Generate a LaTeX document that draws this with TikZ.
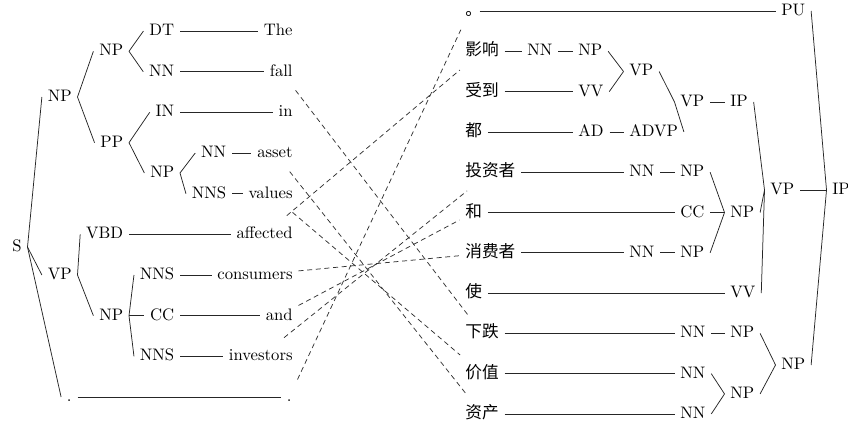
\documentclass[tikz,border=0pt]{standalone}
\usepackage{fontspec}
\newfontfamily\cjk{Noto Sans CJK SC}
\begin{document}
\begin{tikzpicture}[x=0.6pt,y=-0.6pt,
  tn/.style={inner sep=3.33pt, text height=6.5pt, text depth=1.1pt},
  lt/.style={tn,anchor=east},
  rt/.style={tn,anchor=west},
  wd/.style={minimum height=22pt},
  zh/.style={font=\cjk},
  edge/.style={draw=black!85, line width=0.45pt},
  aln/.style={draw=black!80, line width=0.45pt, dash pattern=on 3pt off 2.2pt}]
\useasboundingbox (0,0) rectangle (848,428);
% ---------- left tree ----------
\node[lt] (S) at (27.5,247) {S};
\node[lt] (lNP1) at (77.5,97) {NP};
\node[lt] (lVP1) at (77.5,275) {VP};
\node[lt] (ldot) at (77.5,397) {.};
\node[lt] (lNP2) at (129,51.3) {NP};
\node[lt] (lPP) at (129,142.7) {PP};
\node[lt] (lVBD) at (129,234.3) {VBD};
\node[lt] (lNP3) at (129,315.7) {NP};
\node[lt] (lDT) at (180,31) {DT};
\node[lt] (lNN1) at (180,71.7) {NN};
\node[lt] (lIN) at (180,112.3) {IN};
\node[lt] (lNP4) at (180,173) {NP};
\node[lt] (lNNSc) at (180,275) {NNS};
\node[lt] (lCC) at (180,315.7) {CC};
\node[lt] (lNNSi) at (180,356.3) {NNS};
\node[lt] (lNNa) at (232,153) {NN};
\node[lt] (lNNSv) at (232,193.7) {NNS};
\node[lt,wd] (wThe) at (298.5,31) {The};
\node[lt,wd] (wfall) at (298.5,71.7) {fall};
\node[lt,wd] (win) at (298.5,112.3) {in};
\node[lt,wd] (wasset) at (298.5,153) {asset};
\node[lt,wd] (wvalues) at (298.5,193.7) {values};
\node[lt,wd] (waffected) at (298.5,234.3) {affected};
\node[lt,wd] (wconsumers) at (298.5,275) {consumers};
\node[lt,wd] (wand) at (298.5,315.7) {and};
\node[lt,wd] (winvestors) at (298.5,356.3) {investors};
\node[lt,wd] (wdot) at (297.5,397) {.};
\draw[edge] (S.east) -- (lNP1.west);
\draw[edge] (S.east) -- (lVP1.west);
\draw[edge] (S.east) -- (ldot.west);
\draw[edge] (lNP1.east) -- (lNP2.west);
\draw[edge] (lNP1.east) -- (lPP.west);
\draw[edge] (lNP2.east) -- (lDT.west);
\draw[edge] (lNP2.east) -- (lNN1.west);
\draw[edge] (lPP.east) -- (lIN.west);
\draw[edge] (lPP.east) -- (lNP4.west);
\draw[edge] (lNP4.east) -- (lNNa.west);
\draw[edge] (lNP4.east) -- (lNNSv.west);
\draw[edge] (lVP1.east) -- (lVBD.west);
\draw[edge] (lVP1.east) -- (lNP3.west);
\draw[edge] (lNP3.east) -- (lNNSc.west);
\draw[edge] (lNP3.east) -- (lCC.west);
\draw[edge] (lNP3.east) -- (lNNSi.west);
\draw[edge] (lDT.east) -- (wThe.west);
\draw[edge] (lNN1.east) -- (wfall.west);
\draw[edge] (lIN.east) -- (win.west);
\draw[edge] (lNNa.east) -- (wasset.west);
\draw[edge] (lNNSv.east) -- (wvalues.west);
\draw[edge] (lVBD.east) -- (waffected.west);
\draw[edge] (lNNSc.east) -- (wconsumers.west);
\draw[edge] (lCC.east) -- (wand.west);
\draw[edge] (lNNSi.east) -- (winvestors.west);
\draw[edge] (ldot.east) -- (wdot.west);
% ---------- right tree ----------
\node[rt,wd,zh] (z0) at (459.5,11) {\makebox[0.5em][l]{。}};
\node[rt,wd,zh] (zy) at (459.5,51.3) {影响};
\node[rt,wd,zh] (zsd) at (459.5,91.6) {受到};
\node[rt,wd,zh] (zdou) at (459.5,131.9) {都};
\node[rt,wd,zh] (zt) at (459.5,172.2) {投资者};
\node[rt,wd,zh] (zhe) at (459.5,212.5) {和};
\node[rt,wd,zh] (zc) at (459.5,252.8) {消费者};
\node[rt,wd,zh] (zshi) at (459.5,293.1) {使};
\node[rt,wd,zh] (zx) at (459.5,333.4) {下跌};
\node[rt,wd,zh] (zj) at (459.5,373.7) {价值};
\node[rt,wd,zh] (zz) at (459.5,414) {资产};
\node[rt] (rNNy) at (521.5,51.3) {NN};
\node[rt] (rNPy) at (572.5,51.3) {NP};
\node[rt] (rVV2) at (572.5,91.6) {VV};
\node[rt] (rAD) at (572.5,131.9) {AD};
\node[rt] (rVPu) at (623.5,71.5) {VP};
\node[rt] (rADVP) at (623.5,131.9) {ADVP};
\node[rt] (rNNt) at (623.5,172.2) {NN};
\node[rt] (rNNc) at (623.5,252.8) {NN};
\node[rt] (rVPm) at (674.5,102) {VP};
\node[rt] (rNPt) at (674.5,172.2) {NP};
\node[rt] (rCC) at (674.5,212.5) {CC};
\node[rt] (rNPc) at (674.5,252.8) {NP};
\node[rt] (rNNx) at (674.5,333.4) {NN};
\node[rt] (rNNj) at (674.5,373.7) {NN};
\node[rt] (rNNz) at (674.5,414) {NN};
\node[rt] (rIPm) at (724.5,102) {IP};
\node[rt] (rNPh) at (724.5,212.5) {NP};
\node[rt] (rVVs) at (724.5,293.1) {VV};
\node[rt] (rNPx) at (724.5,333.4) {NP};
\node[rt] (rNPjz) at (724.5,393.9) {NP};
\node[rt] (rPU) at (775.5,11) {PU};
\node[rt] (rVPl) at (764.5,190) {VP};
\node[rt] (rNPb) at (775.5,365) {NP};
\node[rt] (rIP0) at (826.5,190) {IP};
\draw[edge] (z0.east) -- (rPU.west);
\draw[edge] (zy.east) -- (rNNy.west);
\draw[edge] (rNNy.east) -- (rNPy.west);
\draw[edge] (zsd.east) -- (rVV2.west);
\draw[edge] (zdou.east) -- (rAD.west);
\draw[edge] (rAD.east) -- (rADVP.west);
\draw[edge] (zt.east) -- (rNNt.west);
\draw[edge] (rNNt.east) -- (rNPt.west);
\draw[edge] (zhe.east) -- (rCC.west);
\draw[edge] (zc.east) -- (rNNc.west);
\draw[edge] (rNNc.east) -- (rNPc.west);
\draw[edge] (zshi.east) -- (rVVs.west);
\draw[edge] (zx.east) -- (rNNx.west);
\draw[edge] (rNNx.east) -- (rNPx.west);
\draw[edge] (zj.east) -- (rNNj.west);
\draw[edge] (zz.east) -- (rNNz.west);
\draw[edge] (rNPy.east) -- (rVPu.west);
\draw[edge] (rVV2.east) -- (rVPu.west);
\draw[edge] (rVPu.east) -- (rVPm.west);
\draw[edge] (rADVP.east) -- (rVPm.west);
\draw[edge] (rVPm.east) -- (rIPm.west);
\draw[edge] (rNPt.east) -- (rNPh.west);
\draw[edge] (rCC.east) -- (rNPh.west);
\draw[edge] (rNPc.east) -- (rNPh.west);
\draw[edge] (rIPm.east) -- (rVPl.west);
\draw[edge] (rNPh.east) -- (rVPl.west);
\draw[edge] (rVVs.east) -- (rVPl.west);
\draw[edge] (rNNj.east) -- (rNPjz.west);
\draw[edge] (rNNz.east) -- (rNPjz.west);
\draw[edge] (rNPx.east) -- (rNPb.west);
\draw[edge] (rNPjz.east) -- (rNPb.west);
\draw[edge] (rPU.east) -- (rIP0.west);
\draw[edge] (rVPl.east) -- (rIP0.west);
\draw[edge] (rNPb.east) -- (rIP0.west);
% ---------- alignments ----------
\draw[aln] (wfall) -- (zx);
\draw[aln] (wasset) -- (zz);
\draw[aln] (wvalues) -- (zj);
\draw[aln] (waffected) -- (zy);
\draw[aln] (wconsumers) -- (zc);
\draw[aln] (wand) -- (zhe);
\draw[aln] (winvestors) -- (zt);
\draw[aln] (wdot) -- (z0);
\end{tikzpicture}
\end{document}
